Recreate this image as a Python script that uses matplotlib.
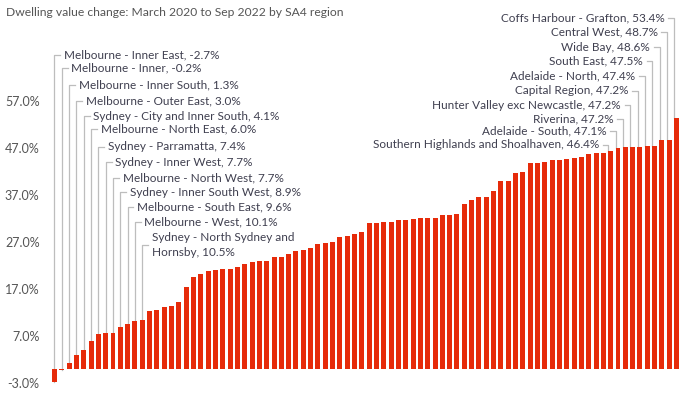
import numpy as np
import matplotlib
matplotlib.use("Agg")
import matplotlib.pyplot as plt

plt.rcParams['font.family'] = ['Lato', 'DejaVu Sans']

# dwelling value change (%) by SA4 region, sorted ascending
values = [-2.7, -0.2, 1.3, 3.0, 4.1, 6.0, 7.4, 7.7, 7.7, 8.9,
          9.6, 10.1, 10.5, 12.4, 12.6, 13.2, 13.4, 14.3, 17.4, 19.6,
          20.2, 20.9, 21.1, 21.3, 21.3, 21.7, 22.3, 22.8, 23.0, 23.0,
          23.8, 23.8, 24.5, 25.1, 25.3, 25.7, 26.5, 26.8, 27.1, 28.1,
          28.3, 28.7, 29.1, 31.1, 31.1, 31.3, 31.3, 31.7, 31.7, 31.9,
          32.1, 32.1, 32.1, 32.8, 32.8, 33.0, 35.1, 36.0, 36.6, 36.6,
          37.9, 40.0, 40.0, 41.7, 41.9, 43.8, 43.8, 44.0, 44.4, 44.4,
          44.7, 44.9, 45.1, 45.7, 46.0, 46.0, 46.4, 47.1, 47.2, 47.2,
          47.2, 47.4, 47.5, 48.6, 48.7, 53.4]

low_names = ["Melbourne - Inner East", "Melbourne - Inner", "Melbourne - Inner South",
             "Melbourne - Outer East", "Sydney - City and Inner South",
             "Melbourne - North East", "Sydney - Parramatta", "Sydney - Inner West",
             "Melbourne - North West", "Sydney - Inner South West",
             "Melbourne - South East", "Melbourne - West",
             "Sydney - North Sydney and\nHornsby"]
high_names = ["Southern Highlands and Shoalhaven", "Adelaide - South", "Riverina",
              "Hunter Valley exc Newcastle", "Capital Region", "Adelaide - North",
              "South East", "Wide Bay", "Central West", "Coffs Harbour - Grafton"]

yticks = [-3, 7, 17, 27, 37, 47, 57]

# label heights (pixels from top of figure)
low_label_y = [54.5, 68.3, 85, 100.7, 116, 129.3, 146.7, 162.3, 177.7, 192.3, 207.3, 222.3, 245]
high_label_y = [144.7, 130.7, 118.7, 105.3, 90.7, 76, 61, 47, 31.7, 17.7]

W, H = 694, 398
BAR = '#E62B0A'
TXT = '#3f3f4f'
LINE = '#bdbdbd'
FS = 8.5

fig = plt.figure(figsize=(W / 100, H / 100), dpi=100)
ax = fig.add_axes([48.6 / W, (H - 383) / H, (682.4 - 48.6) / W, 81 * 4.7 / H])

x = np.arange(len(values))
ax.bar(x, values, width=0.68, color=BAR, zorder=2)
ax.set_xlim(-0.8, len(values) - 0.2)
ax.set_ylim(-3, 78)
ax.set_yticks(yticks)
ax.set_yticklabels([f"{t:.1f}%" for t in yticks], color='#555555', fontsize=9)
ax.tick_params(axis='y', length=0, pad=6.5)
ax.set_xticks([])
for s in ax.spines.values():
    s.set_visible(False)


def py(ypx):
    # figure pixel (from top) -> data value
    return (368.9 - ypx) / 4.7


dx = 0.8  # horizontal tick length in bar units
for i, (name, ly) in enumerate(zip(low_names, low_label_y)):
    yv = py(ly)
    ax.plot([i, i, i + dx], [values[i], yv, yv], color=LINE, lw=0.9, zorder=1, clip_on=False)
    ax.text(i + dx + 0.5, yv, f"{name}, {values[i]:.1f}%", ha='left', va='center',
            fontsize=FS, color=TXT, linespacing=1.55)

n = len(values)
for k, (name, ly) in enumerate(zip(high_names, high_label_y)):
    i = n - len(high_names) + k
    xl = i - 0.3
    yv = py(ly)
    ax.plot([xl, xl, xl - dx], [values[i], yv, yv], color=LINE, lw=0.9, zorder=1, clip_on=False)
    ax.text(xl - dx - 0.5, yv, f"{name}, {values[i]:.1f}%", ha='right', va='center',
            fontsize=FS, color=TXT)

fig.text(6.5 / W, 1 - 12.5 / H, "Dwelling value change: March 2020 to Sep 2022 by SA4 region",
         ha='left', va='center', fontsize=8.7, color='#555555')

fig.savefig("out.png", dpi=100)
